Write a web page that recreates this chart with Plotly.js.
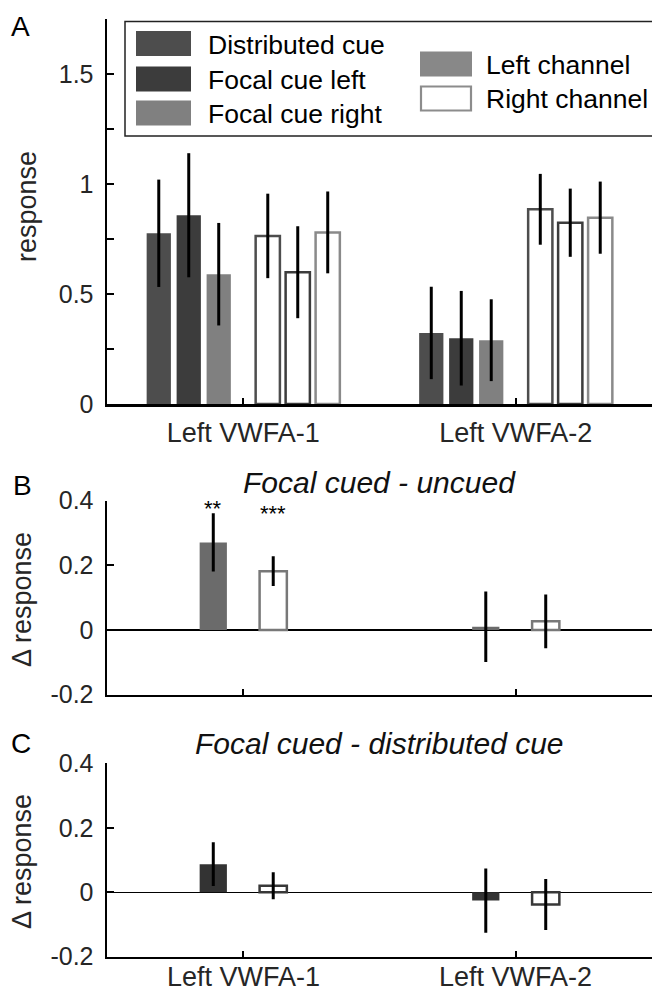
<!DOCTYPE html>
<html>
<head>
<meta charset="utf-8">
<script src="https://cdn.plot.ly/plotly-3.0.1.min.js"></script>
<style>html,body{margin:0;padding:0;background:#fff;}#chart{width:652px;height:993px;}</style>
</head>
<body>
<div id="chart"></div>
<script>
// ---------- data ----------
const categories = ['Left VWFA-1', 'Left VWFA-2'];
const cueNames = ['Distributed cue', 'Focal cue left', 'Focal cue right'];
const channelNames = ['Left channel', 'Right channel'];

// Panel A: response per cue (rows) for each ROI (columns)
const respLeftChannel  = [[0.776, 0.323], [0.858, 0.299], [0.590, 0.290]];
const errLeftChannel   = [[0.244, 0.210], [0.282, 0.215], [0.233, 0.186]];
const respRightChannel = [[0.764, 0.885], [0.599, 0.824], [0.780, 0.847]];
const errRightChannel  = [[0.192, 0.161], [0.209, 0.155], [0.186, 0.164]];

// Panel B: focal cued - uncued (rows: left channel, right channel)
const cuedMinusUncued    = [[0.271, 0.010], [0.182, 0.027]];
const cuedMinusUncuedErr = [[0.090, 0.109], [0.046, 0.083]];
const significanceB      = [['**', ''], ['***', '']];

// Panel C: focal cued - distributed cue
const focalMinusDist    = [[0.087, -0.026], [0.020, -0.038]];
const focalMinusDistErr = [[0.068, 0.100], [0.042, 0.079]];

const yTicksA = [0, 0.25, 0.5, 0.75, 1, 1.25, 1.5, 1.75];
const yTickTextA = ['0', '', '0.5', '', '1', '', '1.5', ''];
const yTicksB = [-0.2, 0, 0.2, 0.4];
const yTickTextB = ['-0.2', '0', '0.2', '0.4'];

// ---------- styles ----------
const W = 652, H = 993;
const px = x => x / W;
const py = y => (H - y) / H;
const FONT = 'Liberation Sans, Arial, Helvetica, sans-serif';
const TXT = '#262626';

const cueFill = ['#4d4d4d', '#3c3c3c', '#808080'];
const cueLine = ['#4d4d4d', '#3c3c3c', '#8a8a8a'];
const offsA = [[-0.31, -0.20, -0.09], [0.09, 0.20, 0.31]];
const wA = 0.089;
const offsB = [-0.11, 0.11];
const wB = 0.1;
const fillB = ['#6b6b6b', '#787878'];
const fillC = ['#333333', '#383838'];

const xpos = categories.map((c, i) => i + 1);
const traces = [];

function errSpec(arr) {
  return {type: 'data', array: arr, color: '#000', thickness: 3, width: 0};
}

// Panel A bars
for (let i = 0; i < 3; i++) {
  traces.push({
    type: 'bar', x: xpos, y: respLeftChannel[i], name: cueNames[i] + ' / ' + channelNames[0],
    xaxis: 'x', yaxis: 'y', width: wA, offset: offsA[0][i] - wA / 2,
    marker: {color: cueFill[i], line: {width: 0}}, error_y: errSpec(errLeftChannel[i]),
    hoverinfo: 'skip'
  });
}
for (let i = 0; i < 3; i++) {
  traces.push({
    type: 'bar', x: xpos, y: respRightChannel[i], name: cueNames[i] + ' / ' + channelNames[1],
    xaxis: 'x', yaxis: 'y', width: wA, offset: offsA[1][i] - wA / 2,
    marker: {color: '#ffffff', line: {width: 2.5, color: cueLine[i]}}, error_y: errSpec(errRightChannel[i]),
    hoverinfo: 'skip'
  });
}
// Panel B bars
for (let c = 0; c < 2; c++) {
  traces.push({
    type: 'bar', x: xpos, y: cuedMinusUncued[c], name: channelNames[c],
    xaxis: 'x2', yaxis: 'y2', width: wB, offset: offsB[c] - wB / 2,
    marker: c === 0 ? {color: fillB[0], line: {width: 0}} : {color: '#fff', line: {width: 2.5, color: fillB[1]}},
    error_y: errSpec(cuedMinusUncuedErr[c]), hoverinfo: 'skip'
  });
}
// Panel C bars
for (let c = 0; c < 2; c++) {
  traces.push({
    type: 'bar', x: xpos, y: focalMinusDist[c], name: channelNames[c],
    xaxis: 'x3', yaxis: 'y3', width: wB, offset: offsB[c] - wB / 2,
    marker: c === 0 ? {color: fillC[0], line: {width: 0}} : {color: '#fff', line: {width: 2.5, color: fillC[1]}},
    error_y: errSpec(focalMinusDistErr[c]), hoverinfo: 'skip'
  });
}

function xAxis(anchor, showLabels, standoff) {
  return {
    domain: [px(107), 1], range: [0.5, 2.5], anchor: anchor,
    tickvals: xpos, ticktext: categories, showticklabels: showLabels,
    ticks: 'inside', ticklen: 6, tickwidth: 2, tickcolor: '#000',
    showline: true, linewidth: 2.5, linecolor: '#000', mirror: false,
    showgrid: false, zeroline: false, fixedrange: true,
    tickfont: {size: 27, color: TXT, family: FONT}, ticklabelstandoff: standoff
  };
}
function yAxis(anchor, dom, range, tv, tt, zl) {
  return {
    domain: dom, range: range, anchor: anchor,
    tickvals: tv, ticktext: tt, ticks: 'inside', ticklen: 7, tickwidth: 2, tickcolor: '#000',
    showline: true, linewidth: 2.5, linecolor: '#000',
    showgrid: false, zeroline: zl, zerolinecolor: '#000', zerolinewidth: 1.2, fixedrange: true,
    tickfont: {size: 25, color: TXT, family: FONT}, ticklabelstandoff: 6
  };
}

const annotations = [];
function ann(text, x, y, opts) {
  annotations.push(Object.assign({
    text: text, x: px(x), y: py(y), xref: 'paper', yref: 'paper', showarrow: false,
    xanchor: 'center', yanchor: 'middle', font: {family: FONT, size: 27, color: TXT}
  }, opts || {}));
}
// panel letters
ann('A', 20, 27, {font: {family: FONT, size: 28, color: '#000'}});
ann('B', 22, 485, {font: {family: FONT, size: 28, color: '#000'}});
ann('C', 21, 743, {font: {family: FONT, size: 28, color: '#000'}});
// y-axis titles
ann('response', 27, 206, {textangle: -90});
ann('\u0394 response', 22, 600, {textangle: -90});
ann('\u0394 response', 22, 862, {textangle: -90});
// panel titles
ann('<i>Focal cued - uncued</i>', 379.5, 483, {font: {family: FONT, size: 30, color: '#111'}});
ann('<i>Focal cued - distributed cue</i>', 379.5, 743, {font: {family: FONT, size: 30, color: '#111'}});
// category labels below panel C (kept inside the picture)
categories.forEach((cat, g) => {
  annotations.push({
    text: cat, x: xpos[g], y: 0, xref: 'x3', yref: 'paper', showarrow: false,
    xanchor: 'center', yanchor: 'bottom', borderpad: 0,
    font: {family: FONT, size: 27, color: TXT}
  });
});
// significance stars (panel B)
const starY = [0.376, 0.361];
for (let c = 0; c < 2; c++) {
  for (let g = 0; g < 2; g++) {
    if (!significanceB[c][g]) continue;
    annotations.push({
      text: significanceB[c][g], x: xpos[g] + offsB[c], y: starY[c], xref: 'x2', yref: 'y2',
      showarrow: false, xanchor: 'center', yanchor: 'middle',
      font: {family: FONT, size: 22, color: '#000'}
    });
  }
}

// legend (drawn manually)
const shapes = [];
shapes.push({type: 'rect', xref: 'paper', yref: 'paper', x0: px(125), x1: px(660), y0: py(136), y1: py(21.5),
  line: {color: '#222', width: 1.5}, fillcolor: '#fff', layer: 'above'});
const legRowsL = [43.5, 79, 113];
for (let i = 0; i < 3; i++) {
  shapes.push({type: 'rect', xref: 'paper', yref: 'paper', x0: px(136), x1: px(191),
    y0: py(legRowsL[i] + 12.5), y1: py(legRowsL[i] - 12.5), line: {width: 0}, fillcolor: cueFill[i], layer: 'above'});
  ann(cueNames[i], 206, legRowsL[i] + 1, {xanchor: 'left', font: {family: FONT, size: 26.5, color: '#000'}});
}
const legRowsR = [64, 98.5];
shapes.push({type: 'rect', xref: 'paper', yref: 'paper', x0: px(420), x1: px(472),
  y0: py(legRowsR[0] + 12.5), y1: py(legRowsR[0] - 12.5), line: {width: 0}, fillcolor: '#888888', layer: 'above'});
shapes.push({type: 'rect', xref: 'paper', yref: 'paper', x0: px(421), x1: px(471),
  y0: py(legRowsR[1] + 12), y1: py(legRowsR[1] - 12), line: {width: 2.2, color: '#8c8c8c'}, fillcolor: '#fff', layer: 'above'});
for (let c = 0; c < 2; c++) {
  ann(channelNames[c], 484, legRowsR[c] + 1, {xanchor: 'left', font: {family: FONT, size: 26.5, color: '#000'}});
}

const layout = {
  width: W, height: H, margin: {l: 0, r: 0, t: 0, b: 0},
  paper_bgcolor: '#fff', plot_bgcolor: 'rgba(0,0,0,0)',
  showlegend: false, barmode: 'overlay',
  font: {family: FONT, color: TXT},
  xaxis: xAxis('y', true, 3),
  xaxis2: xAxis('y2', false, 0),
  xaxis3: xAxis('y3', false, 0),
  yaxis: yAxis('x', [py(404), py(19)], [0, 1.75], yTicksA, yTickTextA, false),
  yaxis2: yAxis('x2', [py(694.7), py(500.7)], [-0.2, 0.4], yTicksB, yTickTextB, true),
  yaxis3: yAxis('x3', [py(956.7), py(763.3)], [-0.2, 0.4], yTicksB, yTickTextB, true),
  annotations: annotations,
  shapes: shapes
};

Plotly.newPlot('chart', traces, layout, {displayModeBar: false, staticPlot: true});
</script>
</body>
</html>
